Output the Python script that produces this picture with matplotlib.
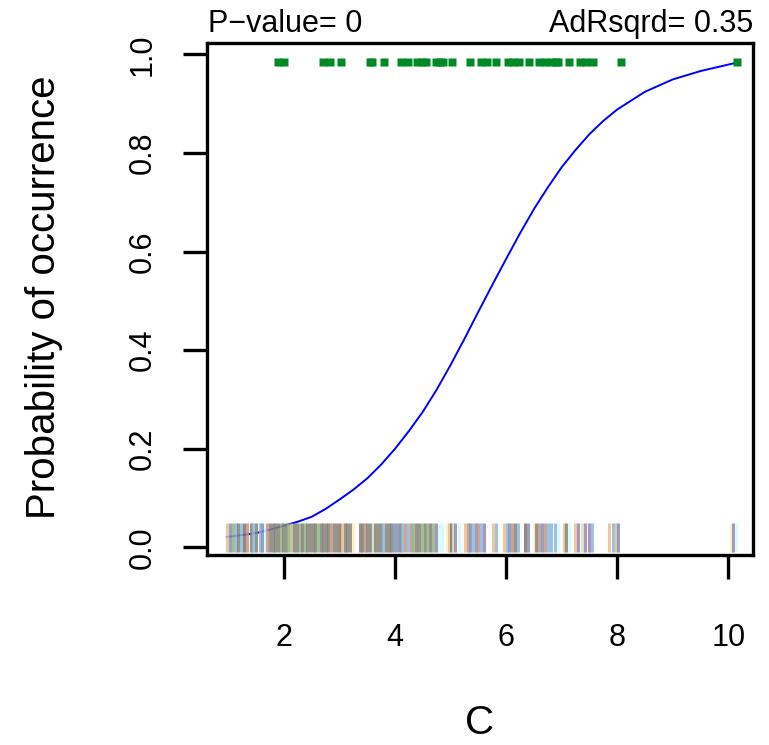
import matplotlib.pyplot as plt

plt.rcParams["font.family"] = ["Liberation Sans", "DejaVu Sans"]

# fitted probability of occurrence along C
curve_x = [0.97, 1.25, 1.5, 1.75, 2.0, 2.25, 2.5, 2.75, 3.0, 3.25, 3.5,
           3.75, 4.0, 4.25, 4.5, 4.75, 5.0, 5.25, 5.5, 5.75, 6.0, 6.25,
           6.5, 6.75, 7.0, 7.25, 7.5, 7.75, 8.0, 8.5, 9.0, 9.5, 10.15]
curve_p = [0.021, 0.025, 0.029, 0.036, 0.044, 0.052, 0.062, 0.078, 0.097,
           0.117, 0.140, 0.168, 0.200, 0.236, 0.275, 0.320, 0.370, 0.423,
           0.478, 0.532, 0.585, 0.637, 0.686, 0.730, 0.771, 0.806, 0.838,
           0.865, 0.888, 0.924, 0.949, 0.966, 0.983]

# presence records, drawn along the top
presence_x = [1.89, 2.00, 2.71, 2.82, 3.03, 3.55, 3.59, 3.80, 4.11, 4.23,
              4.40, 4.48, 4.55, 4.73, 4.80, 4.86, 5.03, 5.35, 5.54, 5.65,
              5.82, 6.04, 6.13, 6.23, 6.42, 6.60, 6.70, 6.80, 6.90, 6.94,
              7.13, 7.33, 7.44, 7.56, 8.06, 10.15]
presence_level = 0.985

# absence records, drawn as a rug along the bottom
absence_x = [0.98, 1.03, 1.09, 1.14, 1.17, 1.23, 1.28, 1.34, 1.40, 1.45,
             1.50, 1.56, 1.60, 1.65, 1.69, 1.75, 1.80, 1.84, 1.89, 1.94,
             1.99, 2.04, 2.08, 2.13, 2.18, 2.23, 2.28, 2.32, 2.37, 2.42,
             2.47, 2.52, 2.56, 2.61, 2.66, 2.71, 2.76, 2.80, 2.85, 2.90,
             2.95, 3.00, 3.04, 3.09, 3.14, 3.19, 3.24, 3.36, 3.40, 3.45,
             3.50, 3.55, 3.60, 3.64, 3.69, 3.74, 3.79, 3.84, 3.89, 3.93,
             3.98, 4.03, 4.08, 4.12, 4.18, 4.24, 4.29, 4.33, 4.38, 4.43,
             4.48, 4.53, 4.57, 4.63, 4.68, 4.73, 4.79, 4.84, 4.93, 4.97,
             5.01, 5.04, 5.08, 5.15, 5.26, 5.31, 5.35, 5.40, 5.46, 5.49,
             5.55, 5.60, 5.76, 5.82, 5.96, 6.02, 6.05, 6.11, 6.16, 6.21,
             6.34, 6.39, 6.50, 6.54, 6.59, 6.65, 6.70, 6.75, 6.81, 6.88,
             6.93, 7.04, 7.08, 7.13, 7.24, 7.29, 7.37, 7.42, 7.49, 7.55,
             7.85, 7.92, 7.98, 8.01, 10.05, 10.08, 10.14]
absence_tone = """T B G LB K LB BR R K LB
K LB B C R K K K K G
K K G Y2 K K G K G K
K K K G K K K K R K
K BR T K K K Y K K R
K K LG K K K LB K K K
B B K LB R LB R G K K
G K G K G L C C Y T
BR LG L C T R B LB B R
LB L T LB T LB B R K LB
BR B Y K R B R LB LB LB
C T K C T L LG L L LB
T LB T B Y L C""".split()

tick_x = [2, 4, 6, 8, 10]
tick_y = [0.0, 0.2, 0.4, 0.6, 0.8, 1.0]

tones = {
    "T": "#EBBE90", "B": "#7F93BC", "LB": "#8CB8DC", "R": "#C69484",
    "G": "#8FB585", "LG": "#CFE3B8", "C": "#D2FBFB", "L": "#9A85B5",
    "Y": "#FBF2BE", "Y2": "#C2BC86", "K": "#858378", "BR": "#85736A",
}

fig = plt.figure(figsize=(7.69, 7.45), dpi=100)
ax = fig.add_axes([0.2688, 0.2546, 0.7104, 0.6873])

ax.plot(curve_x, curve_p, color="#0000FF", lw=1.4, zorder=2)
ax.vlines(absence_x, -0.009, 0.05, colors=[tones[t] for t in absence_tone],
          lw=2.2, alpha=0.85, zorder=3)
ax.plot(presence_x, [presence_level] * len(presence_x), "s", ms=5.8,
        color="#008A25", mec="none", zorder=4)

ax.set_xlim(0.608, 10.445)
ax.set_ylim(-0.0162, 1.0223)
ax.set_xticks(tick_x)
ax.set_xticklabels([str(v) for v in tick_x])
ax.set_yticks(tick_y)
ax.set_yticklabels([f"{v:.1f}" for v in tick_y], rotation=90, va="center")
ax.tick_params(length=17, width=2.4, labelsize=22, direction="out")
ax.tick_params(axis="x", pad=32)
ax.tick_params(axis="y", pad=18)
for s in ax.spines.values():
    s.set_linewidth(2.4)

fig.text(208 / 769, 0.957, "P\u2212value= 0", fontsize=22, ha="left", va="baseline")
fig.text(753 / 769, 0.957, "AdRsqrd= 0.35", fontsize=22, ha="right", va="baseline")
fig.text(55 / 769, 1 - 297.5 / 745, "Probability of occurrence", fontsize=29,
         rotation=90, rotation_mode="anchor", ha="center", va="baseline")
fig.text(480 / 769, 11 / 745, "C", fontsize=29, ha="center", va="baseline")

fig.savefig("out.png", dpi=100)
